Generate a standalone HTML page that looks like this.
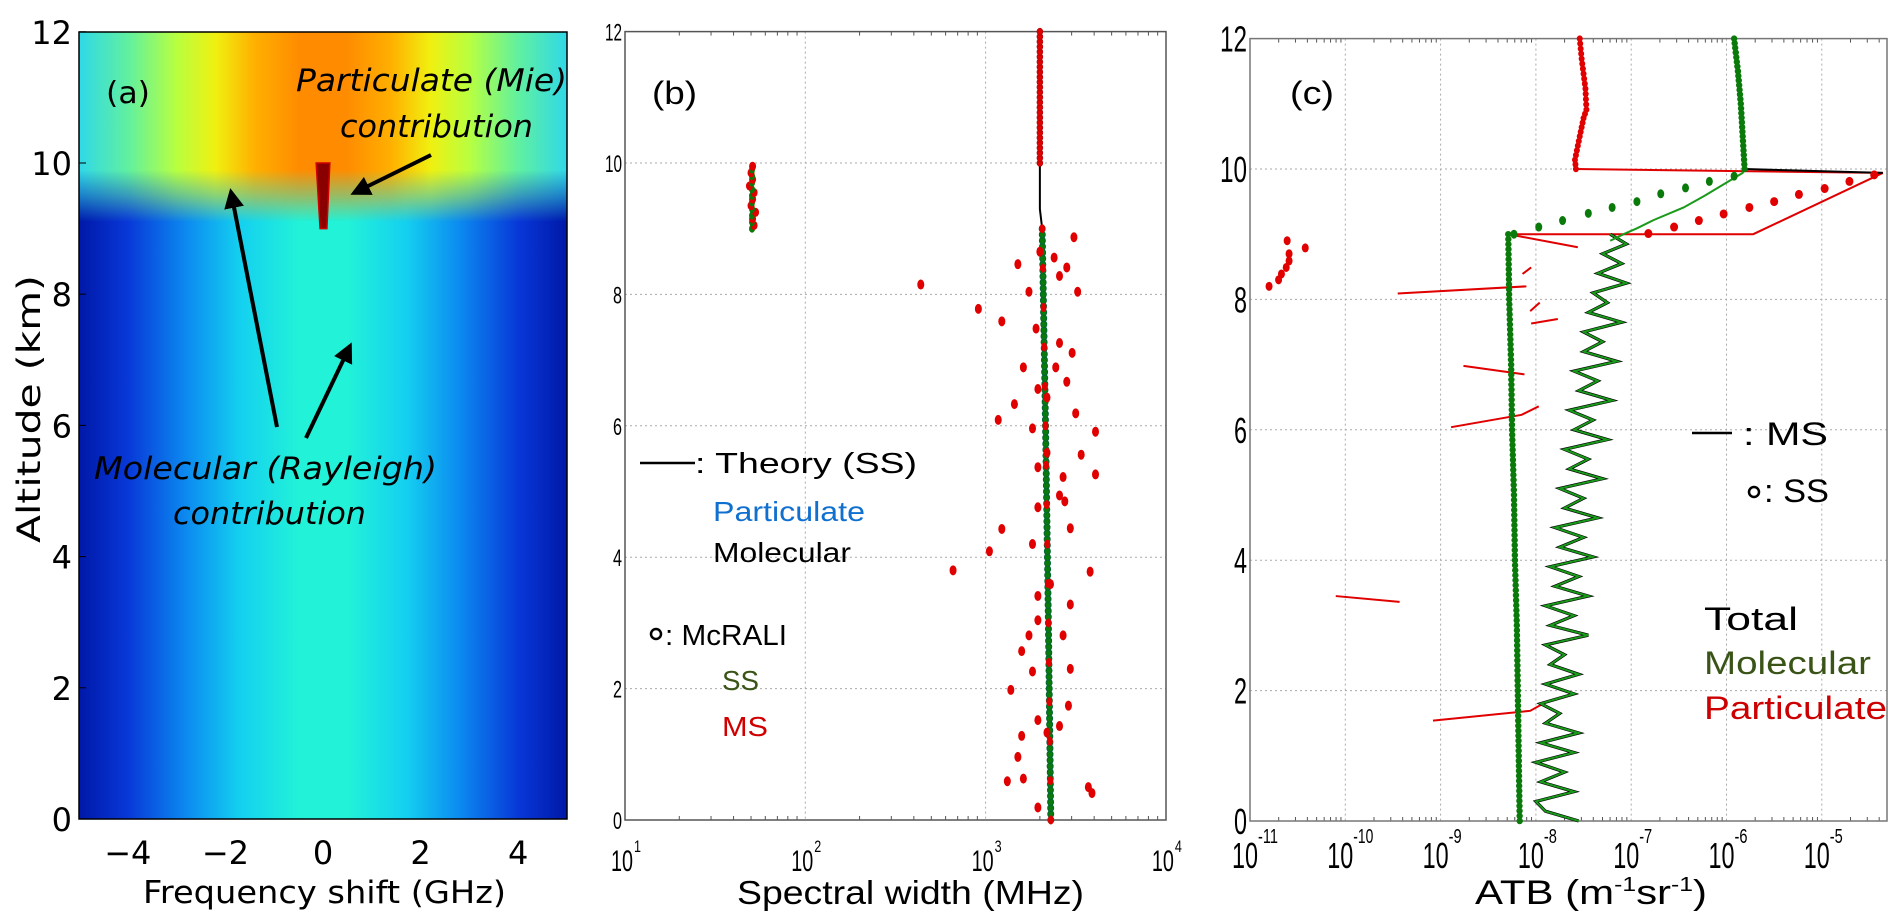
<!DOCTYPE html>
<html><head><meta charset="utf-8"><style>
html,body{margin:0;padding:0;background:#fff;width:1902px;height:923px;overflow:hidden}
svg text{font-family:"Liberation Sans",sans-serif}
.dv{font-family:"DejaVu Sans","Liberation Sans",sans-serif}
</style></head><body>
<svg id="fig" width="1902" height="923" viewBox="0 0 1902 923" xmlns="http://www.w3.org/2000/svg">
<defs>
<linearGradient id="low" x1="0" x2="1" y1="0" y2="0">
<stop offset="0" stop-color="#0018a8"/><stop offset="0.1" stop-color="#0838d8"/><stop offset="0.22" stop-color="#0c8af0"/><stop offset="0.33" stop-color="#14d0f0"/><stop offset="0.45" stop-color="#22f2d8"/><stop offset="0.55" stop-color="#22f2d8"/><stop offset="0.67" stop-color="#14d0f0"/><stop offset="0.78" stop-color="#0c8af0"/><stop offset="0.9" stop-color="#0838d8"/><stop offset="1" stop-color="#0018a8"/>
</linearGradient>
<linearGradient id="warm" x1="0" x2="1" y1="0" y2="0">
<stop offset="0" stop-color="#30d8e8"/><stop offset="0.1" stop-color="#60f0a0"/><stop offset="0.2" stop-color="#b8ff40"/><stop offset="0.28" stop-color="#f0f010"/><stop offset="0.36" stop-color="#ffb000"/><stop offset="0.45" stop-color="#ff8c00"/><stop offset="0.55" stop-color="#ff8c00"/><stop offset="0.64" stop-color="#ffb000"/><stop offset="0.72" stop-color="#f0f010"/><stop offset="0.8" stop-color="#b8ff40"/><stop offset="0.9" stop-color="#60f0a0"/><stop offset="1" stop-color="#30d8e8"/>
</linearGradient>
<linearGradient id="fadeg" gradientUnits="userSpaceOnUse" x1="0" y1="170" x2="0" y2="222">
<stop offset="0" stop-color="#fff"/><stop offset="0.5" stop-color="#888"/><stop offset="1" stop-color="#000"/>
</linearGradient>
<mask id="fade"><rect x="0" y="0" width="700" height="300" fill="url(#fadeg)"/></mask>
<marker id="ah" markerWidth="5" markerHeight="5" refX="4" refY="2.5" orient="auto" markerUnits="strokeWidth"><path d="M0,0 L5,2.5 L0,5 z" fill="#000"/></marker>
</defs>
<g id="pa"></g>
<g id="pb"></g>
<g id="pc"></g>
</svg>
<script>
// ---------- Panel (b) data ----------
const bTheoryAlt=[0,3,6,9,9.3,12];
const bTheoryWidth=[2300,2230,2150,2060,2000,2000];
const bMsScatterWidth=[3090,2000,2400,2820,1510,2570,3240,437,1740,912,1230,1905,2570,3020,1620,2450,2820,1950,2190,1445,3160,1820,1175,4070,2190,3390,1950,2690,4070,2570,2750,1950,1230,2950,1050,1820,660,3800,2290,1950,2950,1950,1740,2690,1585,2950,1820,1380,2880,1950,2570,2190,1585,1510,1620,1320,3715,3890,1950];
const bMsScatterAlt=[8.87,8.65,8.56,8.41,8.46,8.28,8.04,8.15,8.04,7.78,7.59,7.48,7.26,7.11,6.89,6.89,6.67,6.56,6.43,6.33,6.19,5.96,6.09,5.91,5.59,5.56,5.37,5.22,5.26,4.94,4.85,4.76,4.43,4.44,4.09,4.20,3.80,3.78,3.59,3.41,3.28,3.04,2.81,2.81,2.57,2.30,2.26,1.98,1.74,1.52,1.43,1.33,1.28,0.96,0.63,0.59,0.50,0.41,0.19];
const bPartAlt=[9.0,9.1,9.2,9.3,9.4,9.5,9.6,9.7,9.8,9.9];
const bPartWidth=[52,51,53,50,51,52,49,51,50,51];
const bXTicks=[1,2,3,4];
const bYTicks=[0,2,4,6,8,10,12];
// ---------- Panel (c) data (log10 ATB) ----------
const cSsMolAlt=[0,1,2,3,4,5,6,7,8,9];
const cSsMolLog=[-8.17,-8.18,-8.19,-8.2,-8.22,-8.23,-8.25,-8.26,-8.28,-8.29];
const cSsMolTransAlt=[9.0,9.11,9.21,9.32,9.41,9.5,9.62,9.71,9.81,9.89];
const cSsMolTransLog=[-8.23,-7.97,-7.72,-7.45,-7.2,-6.94,-6.69,-6.43,-6.18,-5.92];
const cMolTopAlt=[10,10.5,11,11.5,12];
const cMolTopLog=[-5.81,-5.83,-5.85,-5.88,-5.92];
const cSsPartTransAlt=[9.01,9.11,9.21,9.31,9.41,9.5,9.61,9.7,9.81,9.91];
const cSsPartTransLog=[-6.82,-6.55,-6.29,-6.03,-5.76,-5.5,-5.24,-4.97,-4.71,-4.45];
const cPartTopAlt=[10,10.14,10.5,10.78,10.91,11.23,11.69,12];
const cPartTopLog=[-7.58,-7.59,-7.54,-7.5,-7.47,-7.48,-7.52,-7.54];
const cPartMsAlt=[9.0,9.0,9.94,10.0];
const cPartMsLog=[-8.29,-5.72,-4.36,-7.58];
const cMsMolTransAlt=[8.9,9.0,9.09,9.22,9.41,9.59,9.94,10.0];
const cMsMolTransLog=[-7.22,-7.08,-6.94,-6.76,-6.45,-6.23,-5.83,-5.81];
const cMsMolAlt=[0,0.15,0.3,0.45,0.6,0.75,0.9,1.05,1.2,1.35,1.5,1.65,1.8,1.95,2.1,2.25,2.4,2.55,2.7,2.85,3.0,3.15,3.3,3.45,3.6,3.75,3.9,4.05,4.2,4.35,4.5,4.65,4.8,4.95,5.1,5.25,5.4,5.55,5.7,5.85,6.0,6.15,6.3,6.45,6.6,6.75,6.9,7.05,7.2,7.35,7.5,7.65,7.8,7.95,8.1,8.25,8.4,8.55,8.7,8.85,9.0];
const cMsMolLog=[-7.55,-7.9,-8.0,-7.6,-7.95,-7.7,-8.0,-7.6,-7.95,-7.55,-7.9,-7.75,-7.95,-7.6,-7.9,-7.55,-7.85,-7.7,-7.9,-7.45,-7.85,-7.6,-7.9,-7.45,-7.8,-7.55,-7.85,-7.4,-7.75,-7.5,-7.8,-7.35,-7.7,-7.5,-7.75,-7.3,-7.65,-7.45,-7.7,-7.25,-7.6,-7.4,-7.65,-7.2,-7.55,-7.35,-7.6,-7.15,-7.5,-7.3,-7.5,-7.1,-7.45,-7.25,-7.4,-7.05,-7.35,-7.1,-7.3,-7.05,-7.22];
const cLeftDotsAlt=[8.2,8.3,8.39,8.49,8.59,8.7,8.9,8.79];
const cLeftDotsLog=[-10.8,-10.7,-10.67,-10.62,-10.59,-10.59,-10.61,-10.42];
const cStraySegs=[[[-9.45,8.09],[-8.1,8.2]],[[-8.14,8.39],[-8.05,8.49]],[[-8.05,7.63],[-7.77,7.7]],[[-8.06,7.82],[-7.96,7.95]],[[-8.76,6.98],[-8.12,6.85]],[[-8.89,6.04],[-8.15,6.23],[-7.97,6.36]],[[-10.1,3.45],[-9.43,3.36]],[[-9.08,1.54],[-8.06,1.69],[-7.9,1.82]],[[-8.29,9.0],[-7.56,8.8]]];
const cXTicks=[-11,-10,-9,-8,-7,-6,-5];
const cYTicks=[0,2,4,6,8,10,12];
const aXTicks=[-4,-2,0,2,4];
const aYTicks=[0,2,4,6,8,10,12];

const NS='http://www.w3.org/2000/svg';
function mk(parent,tag,attrs,text){const e=document.createElementNS(NS,tag);for(const k in attrs)e.setAttribute(k,attrs[k]);if(text!==undefined)e.textContent=text;parent.appendChild(e);return e;}
function T(parent,attrs,text,len){const e=mk(parent,'text',attrs,text);if(len){e.setAttribute('textLength',len);e.setAttribute('lengthAdjust','spacingAndGlyphs');}return e;}
const pa=document.getElementById('pa'),pb=document.getElementById('pb'),pc=document.getElementById('pc');

// ---------- Panel (a) ----------
const ax=v=>323+v*48.8, ay=a=>819-a*65.6;
let e=mk(pa,'rect',{x:79,y:32,width:488,height:787,fill:'url(#low)'});


e=mk(pa,'rect',{x:79,y:32,width:488,height:195,fill:'url(#warm)',mask:'url(#fade)'});


e=mk(pa,'polygon',{points:`${ax(-0.14)},${ay(10)} ${ax(0.14)},${ay(10)} ${ax(0.08)},${ay(9)} ${ax(-0.06)},${ay(9)}`,fill:'#8a0000',stroke:'#d00000','stroke-width':1.5});


mk(pa,'rect',{x:79,y:32,width:488,height:787,fill:'none',stroke:'#000','stroke-width':1.5});
aYTicks.forEach(t=>{e=T(pa,{x:72,y:ay(t)+12,'text-anchor':'end','font-size':32,fill:'#000',class:'dv'},String(t));mk(pa,'line',{x1:79,x2:86,y1:ay(t),y2:ay(t),stroke:'#000'});});
aXTicks.forEach(t=>{e=T(pa,{x:ax(t),y:864,'text-anchor':'middle','font-size':32,fill:'#000',class:'dv'},t<0?'\u2212'+(-t):String(t));});
e=T(pa,{x:143,y:903,'font-size':31,fill:'#000',class:'dv'},'Frequency shift (GHz)',363);

e=T(pa,{x:0,y:0,'font-size':32,fill:'#000',class:'dv',transform:'translate(40,543) rotate(-90)'},'Altitude (km)',268);

e=T(pa,{x:106,y:103,'font-size':30,fill:'#000',class:'dv'},'(a)',44);

e=T(pa,{x:296,y:91,'font-size':31,'font-style':'italic',fill:'#000',class:'dv'},'Particulate (Mie)',271);

T(pa,{x:340,y:137,'font-size':31,'font-style':'italic',fill:'#000',class:'dv'},'contribution',193);
e=T(pa,{x:94,y:479,'font-size':31,'font-style':'italic',fill:'#000',class:'dv'},'Molecular (Rayleigh)',343);

T(pa,{x:173,y:524,'font-size':31,'font-style':'italic',fill:'#000',class:'dv'},'contribution',193);
[[431,155,354,193],[277,427,231,192],[306,438,350,346]].forEach(p=>{e=mk(pa,'line',{x1:p[0],y1:p[1],x2:p[2],y2:p[3],stroke:'#000','stroke-width':4,'marker-end':'url(#ah)'});});

// ---------- Panel (b) ----------
const bx=v=>625+(Math.log10(v)-1)*180.3, by=a=>820-a*65.7;
const bL=625,bR=1166,bT=by(12),bB=820;
bYTicks.forEach(t=>{if(t>0&&t<12)mk(pb,'line',{x1:bL,x2:bR,y1:by(t),y2:by(t),stroke:'#aaa','stroke-dasharray':'2,3'});});
bXTicks.forEach(t=>{const x=bL+(t-1)*180.3;if(t>1&&t<4)mk(pb,'line',{x1:x,x2:x,y1:bT,y2:bB,stroke:'#aaa','stroke-dasharray':'2,3'});
 for(let m=2;m<10&&t<4;m++){const xm=x+Math.log10(m)*180.3;mk(pb,'line',{x1:xm,x2:xm,y1:bB,y2:bB-4,stroke:'#555'});mk(pb,'line',{x1:xm,x2:xm,y1:bT,y2:bT+4,stroke:'#555'});}
 e=T(pb,{x:x-14,y:871,'font-size':30,fill:'#000'},'10',22);
 T(pb,{x:x+9,y:852,'font-size':17,fill:'#000'},String(t),7);});
bYTicks.forEach(t=>{e=T(pb,{x:bL-3,y:by(t)+9,'text-anchor':'end','font-size':24,fill:'#000'},String(t),t>=10?17:9);});
mk(pb,'rect',{x:bL,y:bT,width:bR-bL,height:bB-bT,fill:'none',stroke:'#555','stroke-width':1.5});
function poly(g,xs,ys,attrs,name){const pts=xs.map((v,i)=>xs[i]+','+ys[i]).join(' ');const p=mk(g,'polyline',Object.assign({points:pts,fill:'none'},attrs));return p;}
function along(xs,ys,step){const out=[];for(let i=0;i<xs.length-1;i++){const d=Math.hypot(xs[i+1]-xs[i],ys[i+1]-ys[i]);const n=Math.max(1,Math.round(d/step));for(let k=0;k<n;k++){out.push([xs[i]+(xs[i+1]-xs[i])*k/n,ys[i]+(ys[i+1]-ys[i])*k/n]);}}out.push([xs[xs.length-1],ys[ys.length-1]]);return out;}
const thX=bTheoryWidth.map(bx),thY=bTheoryAlt.map(by);
poly(pb,thX,thY,{stroke:'#000','stroke-width':2},'theory-ss-line');
along(thX.slice(0,4),thY.slice(0,4),6).forEach((p,i)=>{e=mk(pb,'ellipse',{cx:p[0],cy:p[1],rx:3,ry:3.5,fill:'#0a7a0a',stroke:'#063'});});
along(thX.slice(0,4),thY.slice(0,4),40).forEach(p=>{e=mk(pb,'ellipse',{cx:p[0],cy:p[1],rx:3,ry:4.5,fill:'#e00000'});});
along([bx(2000),bx(2000)],[by(10),by(12)],5).forEach(p=>{e=mk(pb,'ellipse',{cx:p[0],cy:p[1],rx:3,ry:3.5,fill:'#e00000',stroke:'#900','stroke-width':0.5});});
bMsScatterWidth.forEach((w,i)=>{e=mk(pb,'ellipse',{cx:bx(w),cy:by(bMsScatterAlt[i]),rx:3.5,ry:5,fill:'#e00000'});});
poly(pb,[bx(50),bx(50)],[by(9),by(10)],{stroke:'#1060e0','stroke-width':2},'particulate-theory-line');
bPartWidth.forEach((w,i)=>{mk(pb,'ellipse',{cx:bx(50)+1,cy:by(bPartAlt[i]),rx:3,ry:4,fill:'#0a7a0a'});e=mk(pb,'ellipse',{cx:bx(w),cy:by(bPartAlt[i]+0.05),rx:3.5,ry:4.5,fill:'#e00000'});});
e=T(pb,{x:652,y:104,'font-size':32,fill:'#000'},'(b)',45);
e=mk(pb,'line',{x1:640,x2:695,y1:463,y2:463,stroke:'#000','stroke-width':2.5});
e=T(pb,{x:695,y:473,'font-size':29,fill:'#000'},': Theory (SS)',222);
e=T(pb,{x:713,y:521,'font-size':28,fill:'#1070d0'},'Particulate',152);
e=T(pb,{x:713,y:562,'font-size':28,fill:'#000'},'Molecular',138);
mk(pb,'circle',{cx:656,cy:634,r:5,fill:'none',stroke:'#000','stroke-width':2.5});
e=T(pb,{x:665,y:645,'font-size':29,fill:'#000'},': McRALI',122);
e=T(pb,{x:722,y:690,'font-size':28,fill:'#3a5418'},'SS',37);
e=T(pb,{x:722,y:736,'font-size':28,fill:'#d00000'},'MS',46);
e=T(pb,{x:737,y:904,'font-size':33,fill:'#000'},'Spectral width (MHz)',347);

// ---------- Panel (c) ----------
const cx=l=>1250+(l+11)*95.3, cy=a=>821-a*65.2;
const cL=1250,cR=1887,cT=cy(12),cB=821;
cYTicks.forEach(t=>{if(t>0&&t<12)mk(pc,'line',{x1:cL,x2:cR,y1:cy(t),y2:cy(t),stroke:'#aaa','stroke-dasharray':'2,3'});});
cXTicks.forEach(t=>{const x=cx(t);if(t>-11)mk(pc,'line',{x1:x,x2:x,y1:cT,y2:cB,stroke:'#aaa','stroke-dasharray':'2,3'});
 for(let m=2;m<10;m++){const xm=x+Math.log10(m)*95.3;if(xm<cR){mk(pc,'line',{x1:xm,x2:xm,y1:cB,y2:cB-4,stroke:'#555'});mk(pc,'line',{x1:xm,x2:xm,y1:cT,y2:cT+4,stroke:'#555'});}}
 e=T(pc,{x:x-18,y:868,'font-size':36,fill:'#000'},'10',26);
 T(pc,{x:x+8,y:843,'font-size':20,fill:'#000'},String(t),t<=-10?20:13);});
cYTicks.forEach(t=>{e=T(pc,{x:cL-3,y:cy(t)+13,'text-anchor':'end','font-size':36,fill:'#000'},String(t),t>=10?27:13);});
mk(pc,'rect',{x:cL,y:cT,width:cR-cL,height:cB-cT,fill:'none',stroke:'#777','stroke-width':1.5});
poly(pc,cPartMsLog.map(cx),cPartMsAlt.map(cy),{stroke:'#e00000','stroke-width':2},'particulate-ms-line');
poly(pc,cPartTopLog.map(cx),cPartTopAlt.map(cy),{stroke:'#e00000','stroke-width':2},'particulate-ms-top-line');
cStraySegs.forEach(s=>{poly(pc,s.map(p=>cx(p[0])),s.map(p=>cy(p[1])),{stroke:'#e00000','stroke-width':2},'particulate-ms-segment');});
poly(pc,cMsMolLog.map(cx),cMsMolAlt.map(cy),{stroke:'#000','stroke-width':3.2},'total-ms-line');
poly(pc,cMsMolLog.map(cx),cMsMolAlt.map(cy),{stroke:'#1a9a1a','stroke-width':2},'molecular-ms-line');
poly(pc,cMsMolTransLog.map(cx),cMsMolTransAlt.map(cy),{stroke:'#1a9a1a','stroke-width':2},'molecular-ms-transition');
poly(pc,[cx(cMolTopLog[0]),cx(cPartMsLog[2])],[cy(10),cy(cPartMsAlt[2])],{stroke:'#000','stroke-width':2},'total-ms-peak');
const ssLowX=cSsMolLog.map(cx),ssLowY=cSsMolAlt.map(cy);
poly(pc,ssLowX,ssLowY,{stroke:'#000','stroke-width':3},'molecular-ss-line');
along(ssLowX,ssLowY,5).forEach(p=>{e=mk(pc,'ellipse',{cx:p[0],cy:p[1],rx:3.2,ry:3.2,fill:'#0a7a0a'});});
const ssTopX=cMolTopLog.map(cx),ssTopY=cMolTopAlt.map(cy);
poly(pc,ssTopX,ssTopY,{stroke:'#000','stroke-width':3},'molecular-ss-top-line');
along(ssTopX,ssTopY,5).forEach(p=>{e=mk(pc,'ellipse',{cx:p[0],cy:p[1],rx:3.2,ry:3.2,fill:'#0a7a0a'});});
along(cPartTopLog.map(cx),cPartTopAlt.map(cy),5).forEach(p=>{e=mk(pc,'ellipse',{cx:p[0],cy:p[1],rx:3,ry:3.2,fill:'#e00000'});});
cSsMolTransLog.forEach((l,i)=>{e=mk(pc,'ellipse',{cx:cx(l),cy:cy(cSsMolTransAlt[i]),rx:3.5,ry:4.5,fill:'#0a7a0a'});});
cSsPartTransLog.forEach((l,i)=>{e=mk(pc,'ellipse',{cx:cx(l),cy:cy(cSsPartTransAlt[i]),rx:4,ry:4.5,fill:'#e00000'});});
cLeftDotsLog.forEach((l,i)=>{e=mk(pc,'ellipse',{cx:cx(l),cy:cy(cLeftDotsAlt[i]),rx:3.5,ry:4.5,fill:'#e00000'});});
e=T(pc,{x:1290,y:104,'font-size':32,fill:'#000'},'(c)',44);
e=mk(pc,'line',{x1:1692,x2:1732,y1:433,y2:433,stroke:'#000','stroke-width':2.5});
e=T(pc,{x:1743,y:445,'font-size':32,fill:'#000'},': MS',85);
mk(pc,'circle',{cx:1754,cy:492,r:5,fill:'none',stroke:'#000','stroke-width':2.5});
e=T(pc,{x:1764,y:502,'font-size':32,fill:'#000'},': SS',65);
e=T(pc,{x:1704,y:630,'font-size':32,fill:'#000'},'Total',94);
e=T(pc,{x:1704,y:674,'font-size':32,fill:'#3a5418'},'Molecular',167);
e=T(pc,{x:1704,y:719,'font-size':32,fill:'#cc0000'},'Particulate',183);
e=mk(pc,'text',{x:1475,y:904,'font-size':34,fill:'#000',textLength:232,lengthAdjust:'spacingAndGlyphs'},'');
['ATB (m','-1','sr','-1',')'].forEach((s,i)=>{mk(e,'tspan',i%2===1?{'font-size':20,dy:-13}:(i>0?{dy:13}:{}),s);});
</script>
</body></html>
